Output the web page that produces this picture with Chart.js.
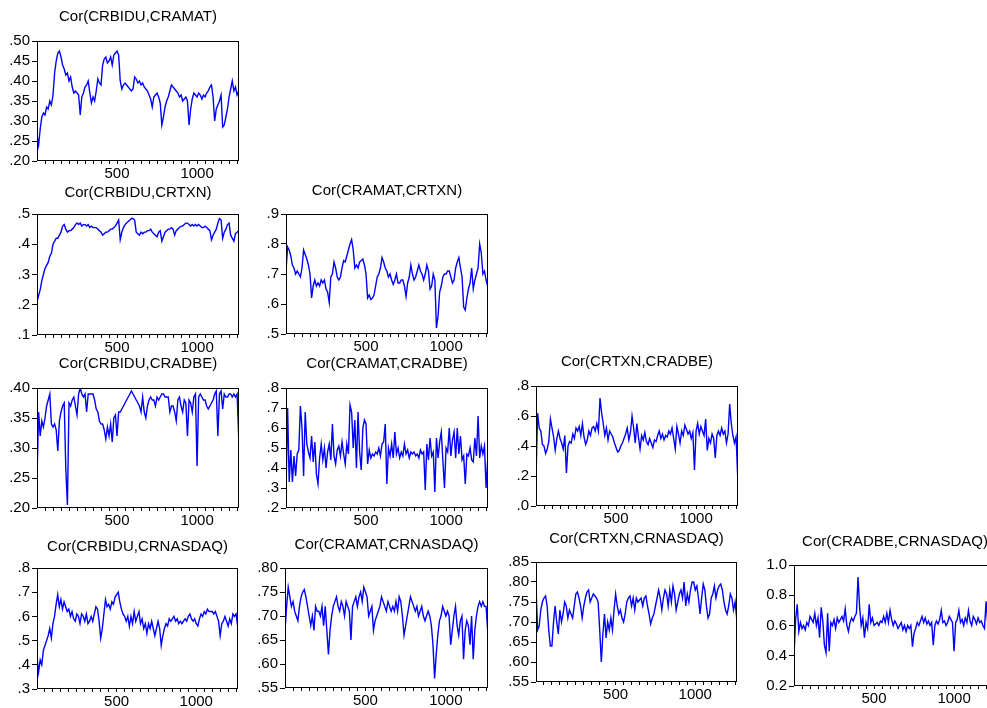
<!DOCTYPE html>
<html>
<head>
<meta charset="utf-8">
<script src="https://cdn.jsdelivr.net/npm/chart.js@4.4.0/dist/chart.umd.min.js"></script>
<style>
html, body { margin: 0; padding: 0; background: #fff; overflow: hidden; }
#wrap { position: relative; width: 987px; height: 708px; overflow: hidden; }
#wrap canvas { position: absolute; }
</style>
</head>
<body>
<div id="wrap"></div>
<script>
// observation step of the series below (obs 0, 10, 20 ... 1260)
const STEP = 10;

// rolling correlations
const bidu_amat = [
  .265,.24,.28,.31,.32,.315,.335,.33,.35,.34,
  .365,.42,.45,.47,.475,.46,.44,.43,.415,.42,
  .40,.41,.385,.37,.375,.37,.365,.315,.36,.37,
  .385,.39,.40,.37,.345,.36,.35,.375,.405,.395,
  .39,.44,.455,.46,.445,.45,.46,.44,.465,.47,
  .475,.465,.40,.38,.39,.395,.39,.385,.38,.375,
  .38,.41,.405,.395,.40,.39,.395,.385,.38,.375,
  .365,.355,.335,.36,.365,.37,.36,.345,.29,.31,
  .335,.35,.36,.375,.39,.385,.38,.375,.37,.36,
  .365,.35,.355,.36,.35,.29,.33,.355,.37,.365,
  .36,.37,.365,.355,.365,.36,.37,.375,.385,.39,
  .36,.30,.33,.34,.35,.365,.285,.29,.31,.33,
  .36,.38,.40,.375,.385,.365,.375
];
const bidu_txn = [
  .21,.23,.25,.28,.30,.32,.33,.34,.36,.37,
  .40,.41,.42,.42,.43,.44,.46,.465,.45,.44,
  .445,.445,.45,.455,.465,.47,.465,.47,.46,.465,
  .465,.46,.465,.455,.46,.455,.455,.455,.45,.445,
  .44,.43,.435,.44,.44,.445,.45,.45,.455,.46,
  .47,.48,.415,.44,.455,.465,.47,.475,.48,.485,
  .485,.48,.44,.435,.43,.44,.435,.44,.44,.445,
  .445,.45,.44,.435,.43,.425,.44,.445,.41,.425,
  .44,.445,.45,.45,.455,.45,.43,.445,.45,.455,
  .46,.46,.465,.47,.47,.465,.46,.465,.46,.465,
  .46,.465,.46,.455,.455,.46,.455,.45,.445,.415,
  .43,.44,.45,.47,.485,.48,.42,.44,.45,.465,
  .47,.43,.42,.41,.435,.44,.445
];
const amat_txn = [
  .71,.79,.78,.76,.73,.72,.70,.71,.70,.69,
  .72,.78,.765,.75,.73,.70,.62,.66,.68,.66,
  .67,.66,.68,.67,.68,.65,.64,.605,.69,.70,
  .74,.72,.69,.68,.69,.72,.745,.74,.76,.78,
  .80,.815,.78,.72,.73,.72,.74,.745,.75,.73,
  .70,.62,.63,.615,.62,.63,.66,.69,.70,.72,
  .755,.74,.72,.71,.69,.70,.68,.665,.68,.70,
  .67,.67,.68,.68,.66,.625,.67,.69,.73,.70,
  .68,.69,.71,.73,.71,.70,.68,.70,.73,.71,
  .65,.66,.70,.68,.52,.56,.64,.66,.69,.70,
  .70,.71,.71,.69,.67,.68,.72,.74,.755,.72,
  .69,.59,.58,.62,.65,.67,.72,.65,.68,.70,
  .72,.80,.77,.70,.71,.68,.66
];
const bidu_adbe = [
  .25,.36,.32,.345,.335,.35,.37,.38,.39,.34,
  .335,.34,.33,.295,.345,.36,.37,.375,.265,.205,
  .375,.37,.38,.385,.37,.355,.39,.40,.39,.385,
  .39,.36,.39,.39,.39,.39,.38,.365,.36,.345,
  .34,.34,.33,.315,.335,.32,.34,.31,.35,.355,
  .32,.36,.36,.365,.37,.375,.38,.385,.39,.395,
  .39,.385,.38,.375,.37,.36,.385,.36,.35,.37,
  .38,.385,.38,.38,.37,.385,.38,.385,.39,.39,
  .385,.385,.385,.36,.37,.37,.36,.345,.38,.385,
  .37,.36,.38,.375,.32,.38,.375,.36,.385,.39,
  .27,.385,.39,.385,.38,.38,.37,.365,.37,.375,
  .38,.39,.395,.32,.39,.395,.365,.39,.385,.385,
  .39,.39,.385,.39,.385,.39,.32
];
const amat_adbe = [
  .28,.70,.33,.49,.33,.46,.36,.47,.49,.71,
  .60,.36,.68,.52,.48,.45,.56,.43,.53,.37,
  .32,.45,.52,.44,.50,.40,.48,.52,.44,.62,
  .46,.42,.49,.51,.46,.53,.47,.42,.52,.47,
  .715,.68,.50,.64,.40,.68,.48,.39,.60,.64,
  .62,.42,.49,.45,.47,.46,.48,.47,.50,.46,
  .52,.53,.62,.32,.50,.46,.52,.45,.58,.47,
  .50,.45,.48,.46,.52,.47,.49,.45,.48,.47,
  .48,.46,.47,.45,.49,.47,.48,.29,.52,.44,
  .55,.46,.48,.28,.55,.45,.53,.58,.44,.30,
  .50,.48,.60,.46,.54,.58,.45,.60,.47,.56,
  .44,.46,.32,.47,.46,.50,.44,.43,.55,.46,
  .66,.45,.51,.47,.51,.30,.44
];
const txn_adbe = [
  .19,.62,.52,.50,.41,.40,.35,.38,.43,.58,
  .52,.46,.37,.45,.50,.45,.42,.38,.47,.22,
  .40,.43,.42,.48,.45,.52,.50,.53,.47,.55,
  .46,.41,.44,.50,.47,.52,.53,.50,.55,.50,
  .72,.62,.55,.47,.52,.44,.50,.48,.46,.42,
  .39,.36,.37,.40,.42,.45,.48,.52,.44,.49,
  .60,.52,.42,.55,.46,.38,.47,.44,.49,.43,
  .41,.45,.42,.39,.44,.43,.47,.50,.45,.48,
  .44,.47,.46,.50,.48,.52,.45,.38,.53,.48,
  .42,.50,.47,.54,.51,.48,.50,.45,.49,.24,
  .50,.55,.48,.53,.50,.47,.58,.37,.45,.42,
  .48,.45,.32,.47,.50,.47,.52,.48,.50,.42,
  .48,.68,.55,.47,.42,.46,.20
];
const bidu_nasdaq = [
  .43,.37,.42,.40,.46,.48,.50,.52,.55,.51,
  .57,.60,.65,.69,.64,.67,.63,.66,.64,.62,
  .63,.60,.62,.59,.58,.61,.60,.57,.61,.60,
  .58,.61,.57,.58,.60,.58,.61,.64,.63,.58,
  .51,.55,.61,.67,.64,.65,.63,.66,.65,.68,
  .69,.70,.66,.63,.61,.60,.58,.60,.56,.60,
  .57,.62,.58,.60,.62,.57,.59,.55,.57,.53,
  .57,.55,.58,.55,.52,.55,.58,.55,.48,.52,
  .55,.57,.56,.59,.58,.59,.60,.58,.59,.57,
  .58,.57,.58,.59,.58,.60,.61,.59,.58,.59,
  .57,.56,.59,.61,.60,.62,.61,.63,.62,.62,
  .62,.61,.62,.60,.58,.52,.57,.58,.60,.58,
  .56,.59,.57,.61,.60,.61,.56
];
const amat_nasdaq = [
  .67,.72,.76,.74,.72,.73,.71,.70,.69,.72,
  .74,.75,.755,.74,.72,.70,.68,.70,.67,.72,
  .71,.71,.70,.72,.68,.72,.67,.62,.67,.70,
  .72,.73,.74,.72,.71,.73,.72,.70,.73,.72,
  .71,.65,.72,.73,.74,.72,.74,.75,.73,.76,
  .75,.74,.70,.71,.72,.67,.69,.70,.71,.72,
  .74,.73,.72,.71,.73,.72,.71,.72,.71,.73,
  .71,.74,.73,.70,.66,.68,.70,.72,.74,.73,
  .72,.71,.72,.70,.71,.72,.70,.69,.70,.71,
  .70,.68,.64,.57,.62,.66,.69,.70,.72,.71,
  .70,.71,.70,.64,.67,.70,.72,.68,.66,.69,
  .70,.61,.67,.69,.68,.64,.70,.61,.67,.70,
  .72,.73,.72,.73,.72,.72,.67
];
const txn_nasdaq = [
  .785,.68,.69,.73,.75,.76,.765,.74,.68,.64,
  .64,.70,.74,.70,.67,.73,.70,.72,.75,.74,
  .71,.73,.72,.71,.74,.77,.775,.76,.74,.71,
  .74,.76,.775,.78,.75,.76,.77,.765,.76,.75,
  .68,.60,.67,.72,.66,.70,.68,.71,.68,.73,
  .77,.74,.72,.73,.71,.70,.72,.75,.76,.765,
  .74,.76,.73,.76,.75,.755,.76,.74,.76,.765,
  .74,.72,.695,.71,.72,.74,.76,.78,.76,.73,
  .76,.78,.77,.74,.78,.75,.79,.77,.73,.75,
  .77,.78,.76,.80,.74,.77,.75,.78,.80,.80,
  .78,.79,.76,.72,.76,.795,.78,.74,.71,.72,
  .76,.77,.79,.76,.78,.79,.795,.78,.75,.73,
  .72,.74,.77,.76,.73,.75,.71
];
const adbe_nasdaq = [
  .40,.64,.74,.56,.62,.58,.60,.57,.62,.60,
  .66,.64,.62,.68,.60,.65,.52,.72,.63,.47,
  .42,.68,.43,.62,.60,.64,.58,.65,.62,.64,
  .66,.63,.71,.60,.56,.62,.65,.63,.66,.68,
  .92,.72,.60,.65,.52,.62,.58,.74,.62,.65,
  .60,.61,.62,.60,.63,.62,.66,.62,.68,.62,
  .70,.64,.60,.63,.61,.58,.60,.62,.57,.60,
  .56,.60,.58,.60,.46,.55,.58,.62,.60,.63,
  .66,.62,.65,.61,.63,.60,.62,.47,.60,.63,
  .61,.64,.70,.62,.63,.60,.62,.66,.64,.62,
  .43,.62,.64,.70,.62,.64,.60,.65,.62,.70,
  .63,.60,.66,.64,.61,.65,.62,.63,.60,.58,
  .76,.62,.64,.60,.63,.62,.61
];

// tick labels
const xLabelled = [500, 1000];
const xMinorStep = 50;
const yt_bidu_amat = [.20, .25, .30, .35, .40, .45, .50];
const yt_bidu_txn = [.1, .2, .3, .4, .5];
const yt_amat_txn = [.5, .6, .7, .8, .9];
const yt_bidu_adbe = [.20, .25, .30, .35, .40];
const yt_amat_adbe = [.2, .3, .4, .5, .6, .7, .8];
const yt_txn_adbe = [.0, .2, .4, .6, .8];
const yt_bidu_nasdaq = [.3, .4, .5, .6, .7, .8];
const yt_amat_nasdaq = [.55, .60, .65, .70, .75, .80];
const yt_txn_nasdaq = [.55, .60, .65, .70, .75, .80, .85];
const yt_adbe_nasdaq = [0.2, 0.4, 0.6, 0.8, 1.0];

// panels: plot box [left, top, right, bottom] in page px, gap = title centre to plot top
const panels = [
  { title: 'Cor(CRBIDU,CRAMAT)',   vals: bidu_amat,   yt: yt_bidu_amat,   dec: 2, lead: false, box: [37, 41, 239, 161],  gap: 24 },
  { title: 'Cor(CRBIDU,CRTXN)',    vals: bidu_txn,    yt: yt_bidu_txn,    dec: 1, lead: false, box: [37, 214, 239, 335], gap: 21 },
  { title: 'Cor(CRAMAT,CRTXN)',    vals: amat_txn,    yt: yt_amat_txn,    dec: 1, lead: false, box: [286, 214, 488, 334], gap: 23 },
  { title: 'Cor(CRBIDU,CRADBE)',   vals: bidu_adbe,   yt: yt_bidu_adbe,   dec: 2, lead: false, box: [37, 388, 239, 508], gap: 24 },
  { title: 'Cor(CRAMAT,CRADBE)',   vals: amat_adbe,   yt: yt_amat_adbe,   dec: 1, lead: false, box: [286, 388, 488, 508], gap: 24 },
  { title: 'Cor(CRTXN,CRADBE)',    vals: txn_adbe,    yt: yt_txn_adbe,    dec: 1, lead: false, box: [536, 386, 738, 506], gap: 24 },
  { title: 'Cor(CRBIDU,CRNASDAQ)', vals: bidu_nasdaq, yt: yt_bidu_nasdaq, dec: 1, lead: false, box: [37, 568, 238, 689], gap: 21 },
  { title: 'Cor(CRAMAT,CRNASDAQ)', vals: amat_nasdaq, yt: yt_amat_nasdaq, dec: 2, lead: false, box: [285, 568, 488, 688], gap: 23 },
  { title: 'Cor(CRTXN,CRNASDAQ)',  vals: txn_nasdaq,  yt: yt_txn_nasdaq,  dec: 2, lead: false, box: [536, 562, 737, 682], gap: 23 },
  { title: 'Cor(CRADBE,CRNASDAQ)', vals: adbe_nasdaq, yt: yt_adbe_nasdaq, dec: 1, lead: true,  box: [794, 565, 996, 686], gap: 23 }
];

const FONT = 'Liberation Sans, Arial, sans-serif';
const YW = 37, TOPH = 40, XH = 24, RPAD = 6;

Chart.defaults.font.family = FONT;
Chart.defaults.color = '#000';

// black box round the plot area
const framePlugin = {
  id: 'frame',
  afterDatasetsDraw(chart) {
    const a = chart.chartArea, c = chart.ctx;
    c.save();
    c.strokeStyle = '#000';
    c.lineWidth = 1;
    c.strokeRect(a.left + 0.5, a.top + 0.5, a.right - a.left - 1, a.bottom - a.top - 1);
    c.restore();
  }
};

function fmt(v, dec, lead) {
  let s = v.toFixed(dec);
  if (!lead) s = s.replace(/^0/, '');
  return s;
}

const wrap = document.getElementById('wrap');

panels.forEach(function (p) {
  const [l, t, r, b] = p.box;
  const cv = document.createElement('canvas');
  const w = YW + (r - l) + RPAD;
  const h = TOPH + (b - t) + XH;
  cv.width = w; cv.height = h;
  cv.style.left = (l - YW) + 'px';
  cv.style.top = (t - TOPH) + 'px';
  cv.style.width = w + 'px';
  cv.style.height = h + 'px';
  wrap.appendChild(cv);

  const xTicks = [];
  for (let v = xMinorStep; v <= 1250; v += xMinorStep) xTicks.push(v);

  new Chart(cv, {
    type: 'line',
    data: {
      datasets: [{
        data: p.vals.map(function (v, i) { return { x: i * STEP, y: v }; }),
        borderColor: '#0000ff',
        borderWidth: 1.4,
        pointRadius: 0,
        tension: 0,
        fill: false
      }]
    },
    options: {
      responsive: false,
      animation: false,
      devicePixelRatio: 1,
      layout: { padding: { left: 0, right: RPAD, top: 0, bottom: 0 } },
      plugins: {
        legend: { display: false },
        tooltip: { enabled: false },
        title: {
          display: true,
          text: p.title,
          fullSize: false,
          color: '#000',
          font: { family: FONT, size: 15, weight: 'normal' },
          padding: { top: 31 - p.gap, bottom: p.gap - 9 }
        }
      },
      scales: {
        x: {
          type: 'linear',
          min: 0,
          max: 1262,
          afterFit: function (s) { s.height = XH; },
          afterBuildTicks: function (s) { s.ticks = xTicks.map(function (v) { return { value: v }; }); },
          grid: { drawOnChartArea: false, drawTicks: true, tickLength: 3, color: '#000' },
          border: { display: false },
          ticks: {
            autoSkip: false,
            maxRotation: 0,
            padding: 1,
            color: '#000',
            font: { size: 15 },
            callback: function (v) { return xLabelled.indexOf(v) >= 0 ? String(v) : ''; }
          }
        },
        y: {
          min: p.yt[0],
          max: p.yt[p.yt.length - 1],
          afterFit: function (s) { s.width = YW; },
          afterBuildTicks: function (s) { s.ticks = p.yt.map(function (v) { return { value: v }; }); },
          grid: { drawOnChartArea: false, drawTicks: true, tickLength: 5, color: '#000' },
          border: { display: false },
          ticks: {
            autoSkip: false,
            padding: 2,
            color: '#000',
            font: { size: 15 },
            callback: function (v) { return fmt(v, p.dec, p.lead); }
          }
        }
      }
    },
    plugins: [framePlugin]
  });
});
</script>
</body>
</html>
